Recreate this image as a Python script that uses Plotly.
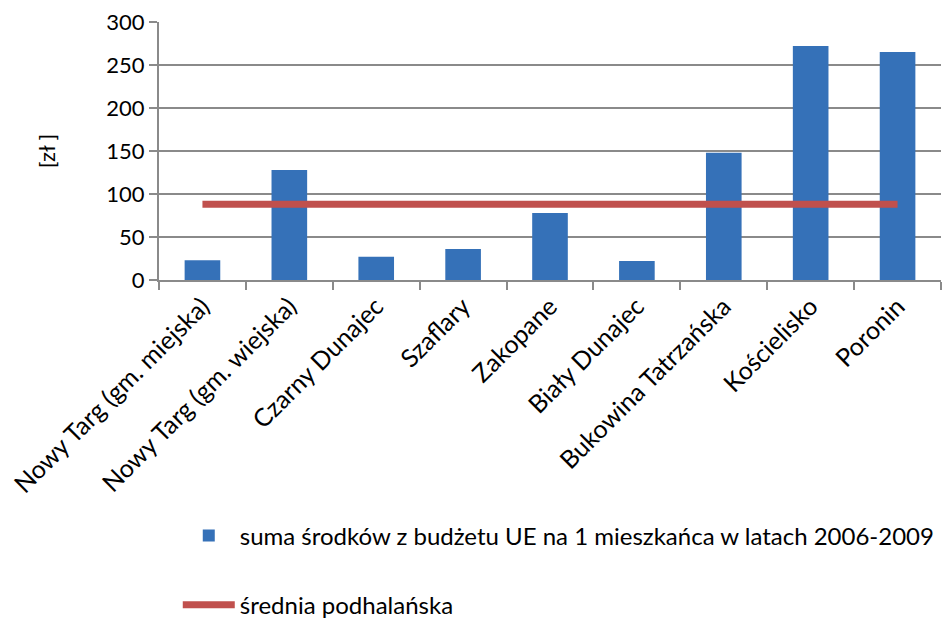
import plotly.graph_objects as go

# Gminy powiatu tatrzańskiego / nowotarskiego (Podhale)
gminy = [
    "Nowy Targ (gm. miejska)",
    "Nowy Targ (gm. wiejska)",
    "Czarny Dunajec",
    "Szaflary",
    "Zakopane",
    "Biały Dunajec",
    "Bukowina Tatrzańska",
    "Kościelisko",
    "Poronin",
]
# suma środków z budżetu UE na 1 mieszkańca w latach 2006-2009 [zł]
srodki_ue = [23, 128, 27, 36, 78, 22, 148, 272, 265]
# średnia podhalańska [zł]
srednia = 88
srednia_linia = [srednia] * len(gminy)

y_ticks = [0, 50, 100, 150, 200, 250, 300]

FONT = "Lato, 'Open Sans', sans-serif"
GRID = "#8a8a8a"

fig = go.Figure()

fig.add_trace(go.Bar(
    x=gminy,
    y=srodki_ue,
    name="suma środków z budżetu UE na 1 mieszkańca w latach 2006-2009",
    marker=dict(color="#3571b8", line=dict(width=0)),
    width=0.41,
    legendgroup="a",
))

fig.add_trace(go.Scatter(
    x=gminy,
    y=srednia_linia,
    mode="lines",
    name="średnia podhalańska",
    line=dict(color="#c0504d", width=7),
    legendgroup="b",
))

fig.update_layout(
    width=952,
    height=618,
    margin=dict(l=159, r=11, t=22, b=338, autoexpand=False),
    paper_bgcolor="white",
    plot_bgcolor="white",
    font=dict(family=FONT, size=22, color="#000000"),
    showlegend=True,
    legend=dict(
        orientation="v",
        x=0.024,
        xanchor="left",
        y=-0.905,
        yanchor="top",
        tracegroupgap=35,
        itemwidth=52,
        font=dict(family=FONT, size=24, color="#000000"),
        bgcolor="rgba(0,0,0,0)",
    ),
    bargap=0.59,
)

fig.update_xaxes(
    type="category",
    tickangle=-45,
    showgrid=False,
    showline=True,
    linecolor=GRID,
    linewidth=2,
    ticks="outside",
    tickson="boundaries",
    ticklen=8,
    tickwidth=2,
    tickcolor=GRID,
    tickfont=dict(family=FONT, size=25, color="#000000"),
)

fig.update_yaxes(
    range=[0, 300],
    tickvals=y_ticks,
    showgrid=True,
    gridcolor=GRID,
    gridwidth=2,
    zeroline=False,
    showline=True,
    linecolor=GRID,
    linewidth=2,
    ticks="outside",
    ticklen=8,
    tickwidth=2,
    tickcolor=GRID,
    tickfont=dict(family=FONT, size=22, color="#000000"),
    title=dict(text="[zł ]", standoff=45, font=dict(family=FONT, size=22, color="#000000")),
)

fig.write_html("out.html")
